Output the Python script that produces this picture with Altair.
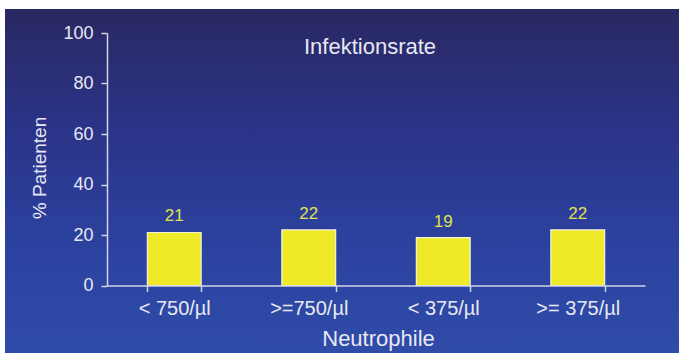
import altair as alt
import pandas as pd

# Infection rate by neutrophil count
categories = ["< 750/µl", ">=750/µl", "< 375/µl", ">= 375/µl"]
rates = [21, 22, 19, 22]

FONT = "Liberation Sans"
TEXT = "#e8e8f2"

df = pd.DataFrame({"gruppe": categories, "rate": rates})

W, H = 538, 252.5
PAD_L, PAD_T = 107, 33

x_enc = alt.X(
    "gruppe:N",
    sort=categories,
    scale=alt.Scale(paddingInner=0.6, paddingOuter=0.3),
    axis=alt.Axis(
        title="Neutrophile",
        zindex=1,
        labelAngle=0,
        labelFontSize=20,
        tickBand="extent",
        labelBaseline="alphabetic",
        labelPadding=23,
        titleX=271,
        titleY=59.5,
        titleBaseline="alphabetic",
        titleFontSize=22,
    ),
)
y_enc = alt.Y(
    "rate:Q",
    scale=alt.Scale(domain=[0, 100]),
    axis=alt.Axis(
        title="% Patienten",
        zindex=1,
        values=[0, 20, 40, 60, 80, 100],
        grid=False,
        labelFontSize=18,
        labelPadding=8,
        titleAngle=270,
        titleX=-62,
        titleY=134.5,
        titleAlign="center",
        titleBaseline="alphabetic",
        titleFontSize=19,
    ),
)

# slide-style blue gradient behind everything
backdrop = alt.Chart(pd.DataFrame({"k": [0]})).mark_rect(
    color=alt.Gradient(
        gradient="linear",
        stops=[
            alt.GradientStop(color="#2a2862", offset=0),
            alt.GradientStop(color="#2a3488", offset=0.35),
            alt.GradientStop(color="#2c42a0", offset=0.7),
            alt.GradientStop(color="#2f4ca8", offset=1),
        ],
        x1=0, x2=0, y1=0, y2=1,
    )
).encode(
    x=alt.value(5 - PAD_L),
    x2=alt.value(679 - PAD_L),
    y=alt.value(9 - PAD_T),
    y2=alt.value(353 - PAD_T),
)

bars = alt.Chart(df).mark_bar(
    fill="#eeea28", stroke="#f4f4d8", strokeWidth=1.2
).encode(x=x_enc, y=y_enc)

labels = alt.Chart(df).mark_text(
    baseline="alphabetic", dy=-11, font=FONT, fontSize=17, color="#e2e250"
).encode(x=alt.X("gruppe:N", sort=categories), y="rate:Q", text="rate:Q")

chart = (
    alt.layer(backdrop, bars, labels)
    .properties(
        width=W,
        height=H,
        autosize=alt.AutoSizeParams(type="none"),
        padding={"left": PAD_L, "top": PAD_T, "right": 679 - PAD_L - W, "bottom": 353 - PAD_T - H},
        title=alt.TitleParams(
            "Infektionsrate",
            anchor="middle",
            font=FONT,
            fontSize=22,
            fontWeight="normal",
            color=TEXT,
            baseline="alphabetic",
            offset=-67,
            dx=-6,
            zindex=1,
        ),
    )
    .configure(background="white")
    .configure_view(stroke=None)
    .configure_axis(
        domainColor="#d4d4e4",
        domainWidth=1.5,
        tickColor="#d4d4e4",
        tickWidth=1.5,
        tickSize=6,
        labelColor=TEXT,
        labelFont=FONT,
        titleColor=TEXT,
        titleFont=FONT,
        titleFontWeight="normal",
    )
)

chart.save("out.html", embed_options={"renderer": "svg", "actions": False})
